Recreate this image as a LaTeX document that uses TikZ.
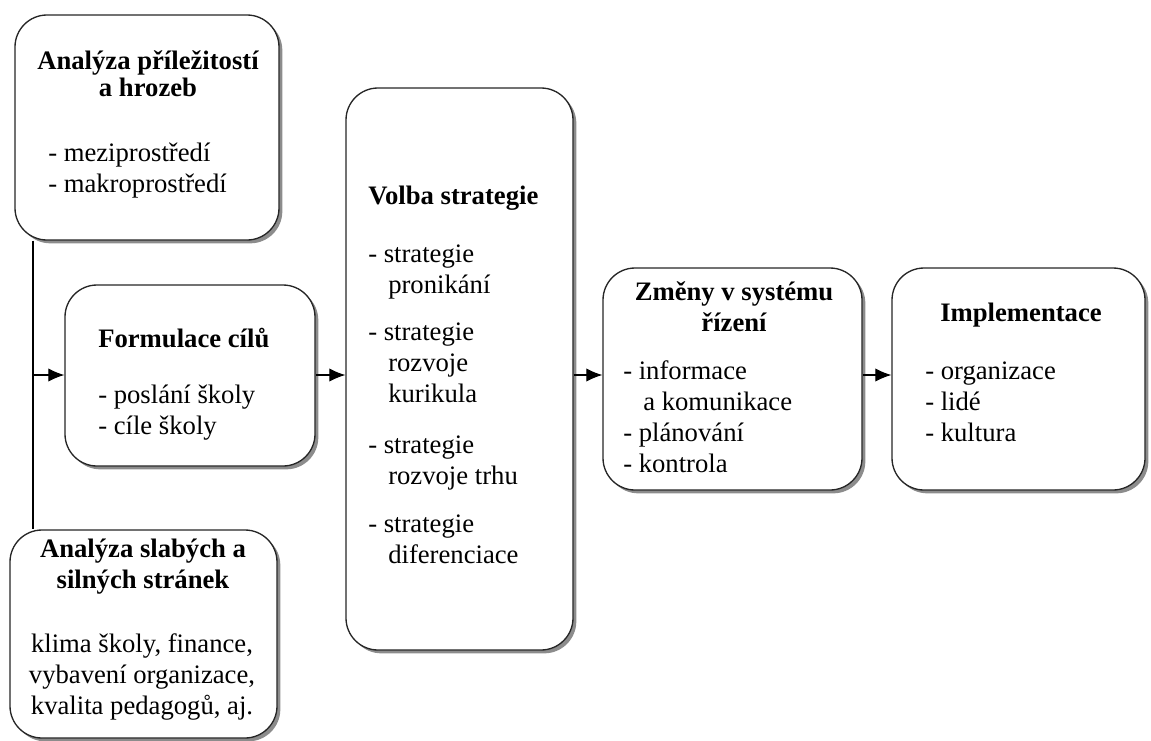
\documentclass[tikz,border=0pt]{standalone}
\usepackage{fontspec}
\setmainfont{Liberation Serif}
\usetikzlibrary{arrows.meta,shadows}
\tikzset{
  stagebox/.style={draw=black!85, line width=1pt, rounded corners=24pt, fill=white, inner sep=0pt,
    drop shadow={shadow xshift=2.5pt, shadow yshift=-2.5pt, fill=black!60, opacity=0.75}},
  itemtext/.style={inner sep=0pt, align=left, font=\fontsize{20pt}{23.25pt}\selectfont, execute at begin node=\strut},
  headtext/.style={itemtext, font=\fontsize{20pt}{23.25pt}\selectfont\bfseries},
  flow/.style={line width=0.8pt, -{Latex[length=12pt,width=10pt]}},
}
\newcommand{\contind}{\hspace*{15pt}}
\begin{document}
\begin{tikzpicture}[x=0.75pt,y=0.75pt,yscale=-1,xscale=1]
\useasboundingbox (0,0) rectangle (1151,740);

%Shape: Rounded Rect [analyza prilezitosti]
\node[stagebox, minimum width=198pt, minimum height=168.75pt] (opp) at (147,127.5) {};
%Shape: Rounded Rect [formulace cilu]
\node[stagebox, minimum width=187.5pt, minimum height=135.75pt] (goal) at (190,375.5) {};
%Shape: Rounded Rect [analyza slabych]
\node[stagebox, minimum width=200.25pt, minimum height=156pt] (swot) at (143.5,634) {};
%Shape: Rounded Rect [volba strategie]
\node[stagebox, minimum width=170.25pt, minimum height=421.5pt] (strat) at (459.5,369) {};
%Shape: Rounded Rect [zmeny v systemu]
\node[stagebox, minimum width=194.25pt, minimum height=166.5pt] (mgmt) at (732.5,379) {};
%Shape: Rounded Rect [implementace]
\node[stagebox, minimum width=189.75pt, minimum height=166.5pt] (impl) at (1018.5,379) {};

%Text Nodes
\node[headtext, align=center, anchor=north] (opphead) at (148,50) {Analýza příležitostí\\[-3pt]a hrozeb};
\node[itemtext, anchor=north west] (opplist) at (48,143) {- meziprostředí\\- makroprostředí};

\node[headtext, anchor=north west] (goalhead) at (98,326) {Formulace cílů};
\node[itemtext, anchor=north west] (goallist) at (98,385) {- poslání školy\\- cíle školy};

\node[headtext, align=center, anchor=north] (swothead) at (143,539) {Analýza slabých a\\silných stránek};
\node[itemtext, align=center, anchor=north] (swotlist) at (142,633) {klima školy, finance,\\vybavení organizace,\\kvalita pedagogů, aj.};

\node[headtext, anchor=north west] (strathead) at (368,183) {Volba strategie};
\node[itemtext, anchor=north west] (strata) at (368,245) {- strategie\\\contind pronikání};
\node[itemtext, anchor=north west] (stratb) at (368,323) {- strategie\\\contind rozvoje\\\contind kurikula};
\node[itemtext, anchor=north west] (stratc) at (368,436) {- strategie\\\contind rozvoje trhu};
\node[itemtext, anchor=north west] (stratd) at (368,515) {- strategie\\\contind diferenciace};

\node[headtext, align=center, anchor=north] (mgmthead) at (734,281) {Změny v systému\\řízení};
\node[itemtext, anchor=north west] (mgmtlist) at (623,360) {- informace\\\contind a komunikace\\- plánování\\- kontrola};

\node[headtext, anchor=north] (implhead) at (1021,300) {Implementace};
\node[itemtext, anchor=north west] (impllist) at (925,362) {- organizace\\- lidé\\- kultura};

%Straight Lines [spine]
\coordinate (spine) at (33,375);
\draw[line width=0.8pt] (spine |- opp.south) -- (spine |- swot.north);
%Arrows
\draw[flow] (spine) -- (goal.west |- spine);
\draw[flow] (goal.east |- spine) -- (strat.west |- spine);
\draw[flow] (strat.east |- spine) -- (mgmt.west |- spine);
\draw[flow] (mgmt.east |- spine) -- (impl.west |- spine);

\end{tikzpicture}
\end{document}
